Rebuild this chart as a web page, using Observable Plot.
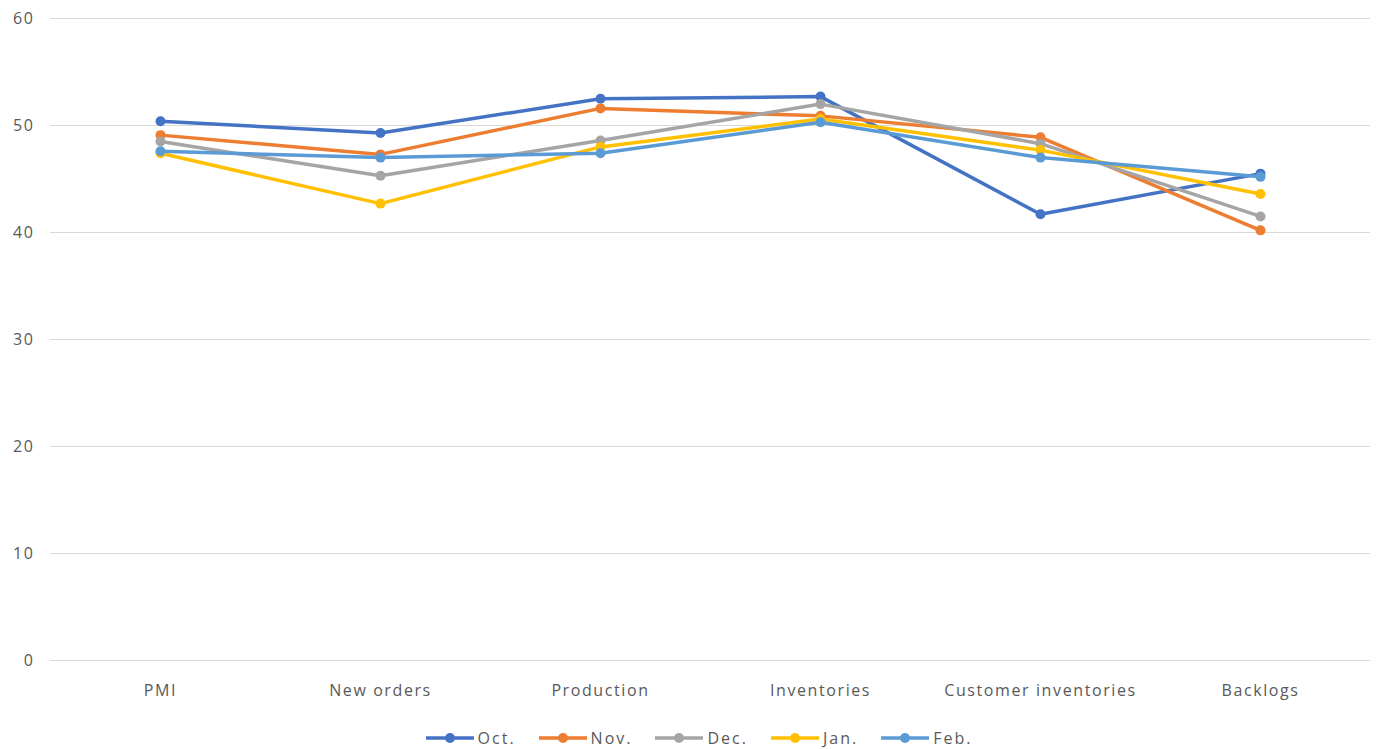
<!DOCTYPE html>
<html>
<head>
<meta charset="utf-8">
<script src="https://cdn.jsdelivr.net/npm/d3@7"></script>
<script src="https://cdn.jsdelivr.net/npm/@observablehq/plot@0.6"></script>
<style>
  html, body { margin: 0; padding: 0; background: #fff; }
  #chart { width: 1379px; }
  .legend { display: flex; justify-content: center; margin-top: 12px; padding-left: 40px;
    font-family: "Open Sans", sans-serif; font-size: 16px; color: #595959; letter-spacing: 2px; }
  .legend .item { display: flex; align-items: center; margin-right: 22px; }
  .legend svg { margin-right: 3px; }
</style>
</head>
<body>
<div id="chart"></div>
<script>
// Index components, October through February
const categories = ["PMI", "New orders", "Production", "Inventories", "Customer inventories", "Backlogs"];
const months = ["Oct.", "Nov.", "Dec.", "Jan.", "Feb."];
const colors = ["#4472C4", "#ED7D31", "#A5A5A5", "#FFC000", "#5B9BD5"];

const oct = [50.4, 49.3, 52.5, 52.7, 41.7, 45.5];
const nov = [49.1, 47.3, 51.6, 50.9, 48.9, 40.2];
const dec = [48.5, 45.3, 48.6, 52.0, 48.3, 41.5];
const jan = [47.4, 42.7, 48.0, 50.6, 47.7, 43.6];
const feb = [47.6, 47.0, 47.4, 50.3, 47.0, 45.2];

const yTicks = [0, 10, 20, 30, 40, 50, 60];

const series = [oct, nov, dec, jan, feb];
const rows = series.flatMap((vals, i) =>
  vals.map((v, j) => ({month: months[i], category: categories[j], value: v}))
);

const font = "'Open Sans', sans-serif";

const plot = Plot.plot({
  width: 1379,
  height: 715,
  marginTop: 18,
  marginBottom: 55,
  marginLeft: 50,
  marginRight: 9,
  style: {fontFamily: font, fontSize: "16px", color: "#595959", background: "#fff", letterSpacing: "1.6px"},
  x: {type: "point", domain: categories, padding: 0.5, label: null},
  y: {domain: [0, 60], ticks: yTicks, label: null},
  color: {domain: months, range: colors},
  marks: [
    Plot.gridY(yTicks, {stroke: "#d9d9d9", strokeOpacity: 1, strokeWidth: 1}),
    Plot.axisY(yTicks, {tickSize: 0, tickPadding: 16, fontSize: 16, fill: "#595959", label: null}),
    Plot.axisX({tickSize: 0, tickPadding: 24, fontSize: 16, fill: "#595959", label: null}),
    Plot.line(rows, {x: "category", y: "value", stroke: "month", strokeWidth: 3.5, strokeLinejoin: "round", strokeLinecap: "round"}),
    Plot.dot(rows, {x: "category", y: "value", fill: "month", r: 5})
  ]
});

document.getElementById("chart").appendChild(plot);

// Legend below the plot
const legend = document.createElement("div");
legend.className = "legend";
months.forEach((m, i) => {
  const item = document.createElement("div");
  item.className = "item";
  item.innerHTML = `<svg width="50" height="12"><line x1="1" x2="49" y1="6" y2="6" stroke="${colors[i]}" stroke-width="3.5"/><circle cx="25" cy="6" r="5" fill="${colors[i]}"/></svg><span>${m}</span>`;
  legend.appendChild(item);
});
document.getElementById("chart").appendChild(legend);
</script>
</body>
</html>
